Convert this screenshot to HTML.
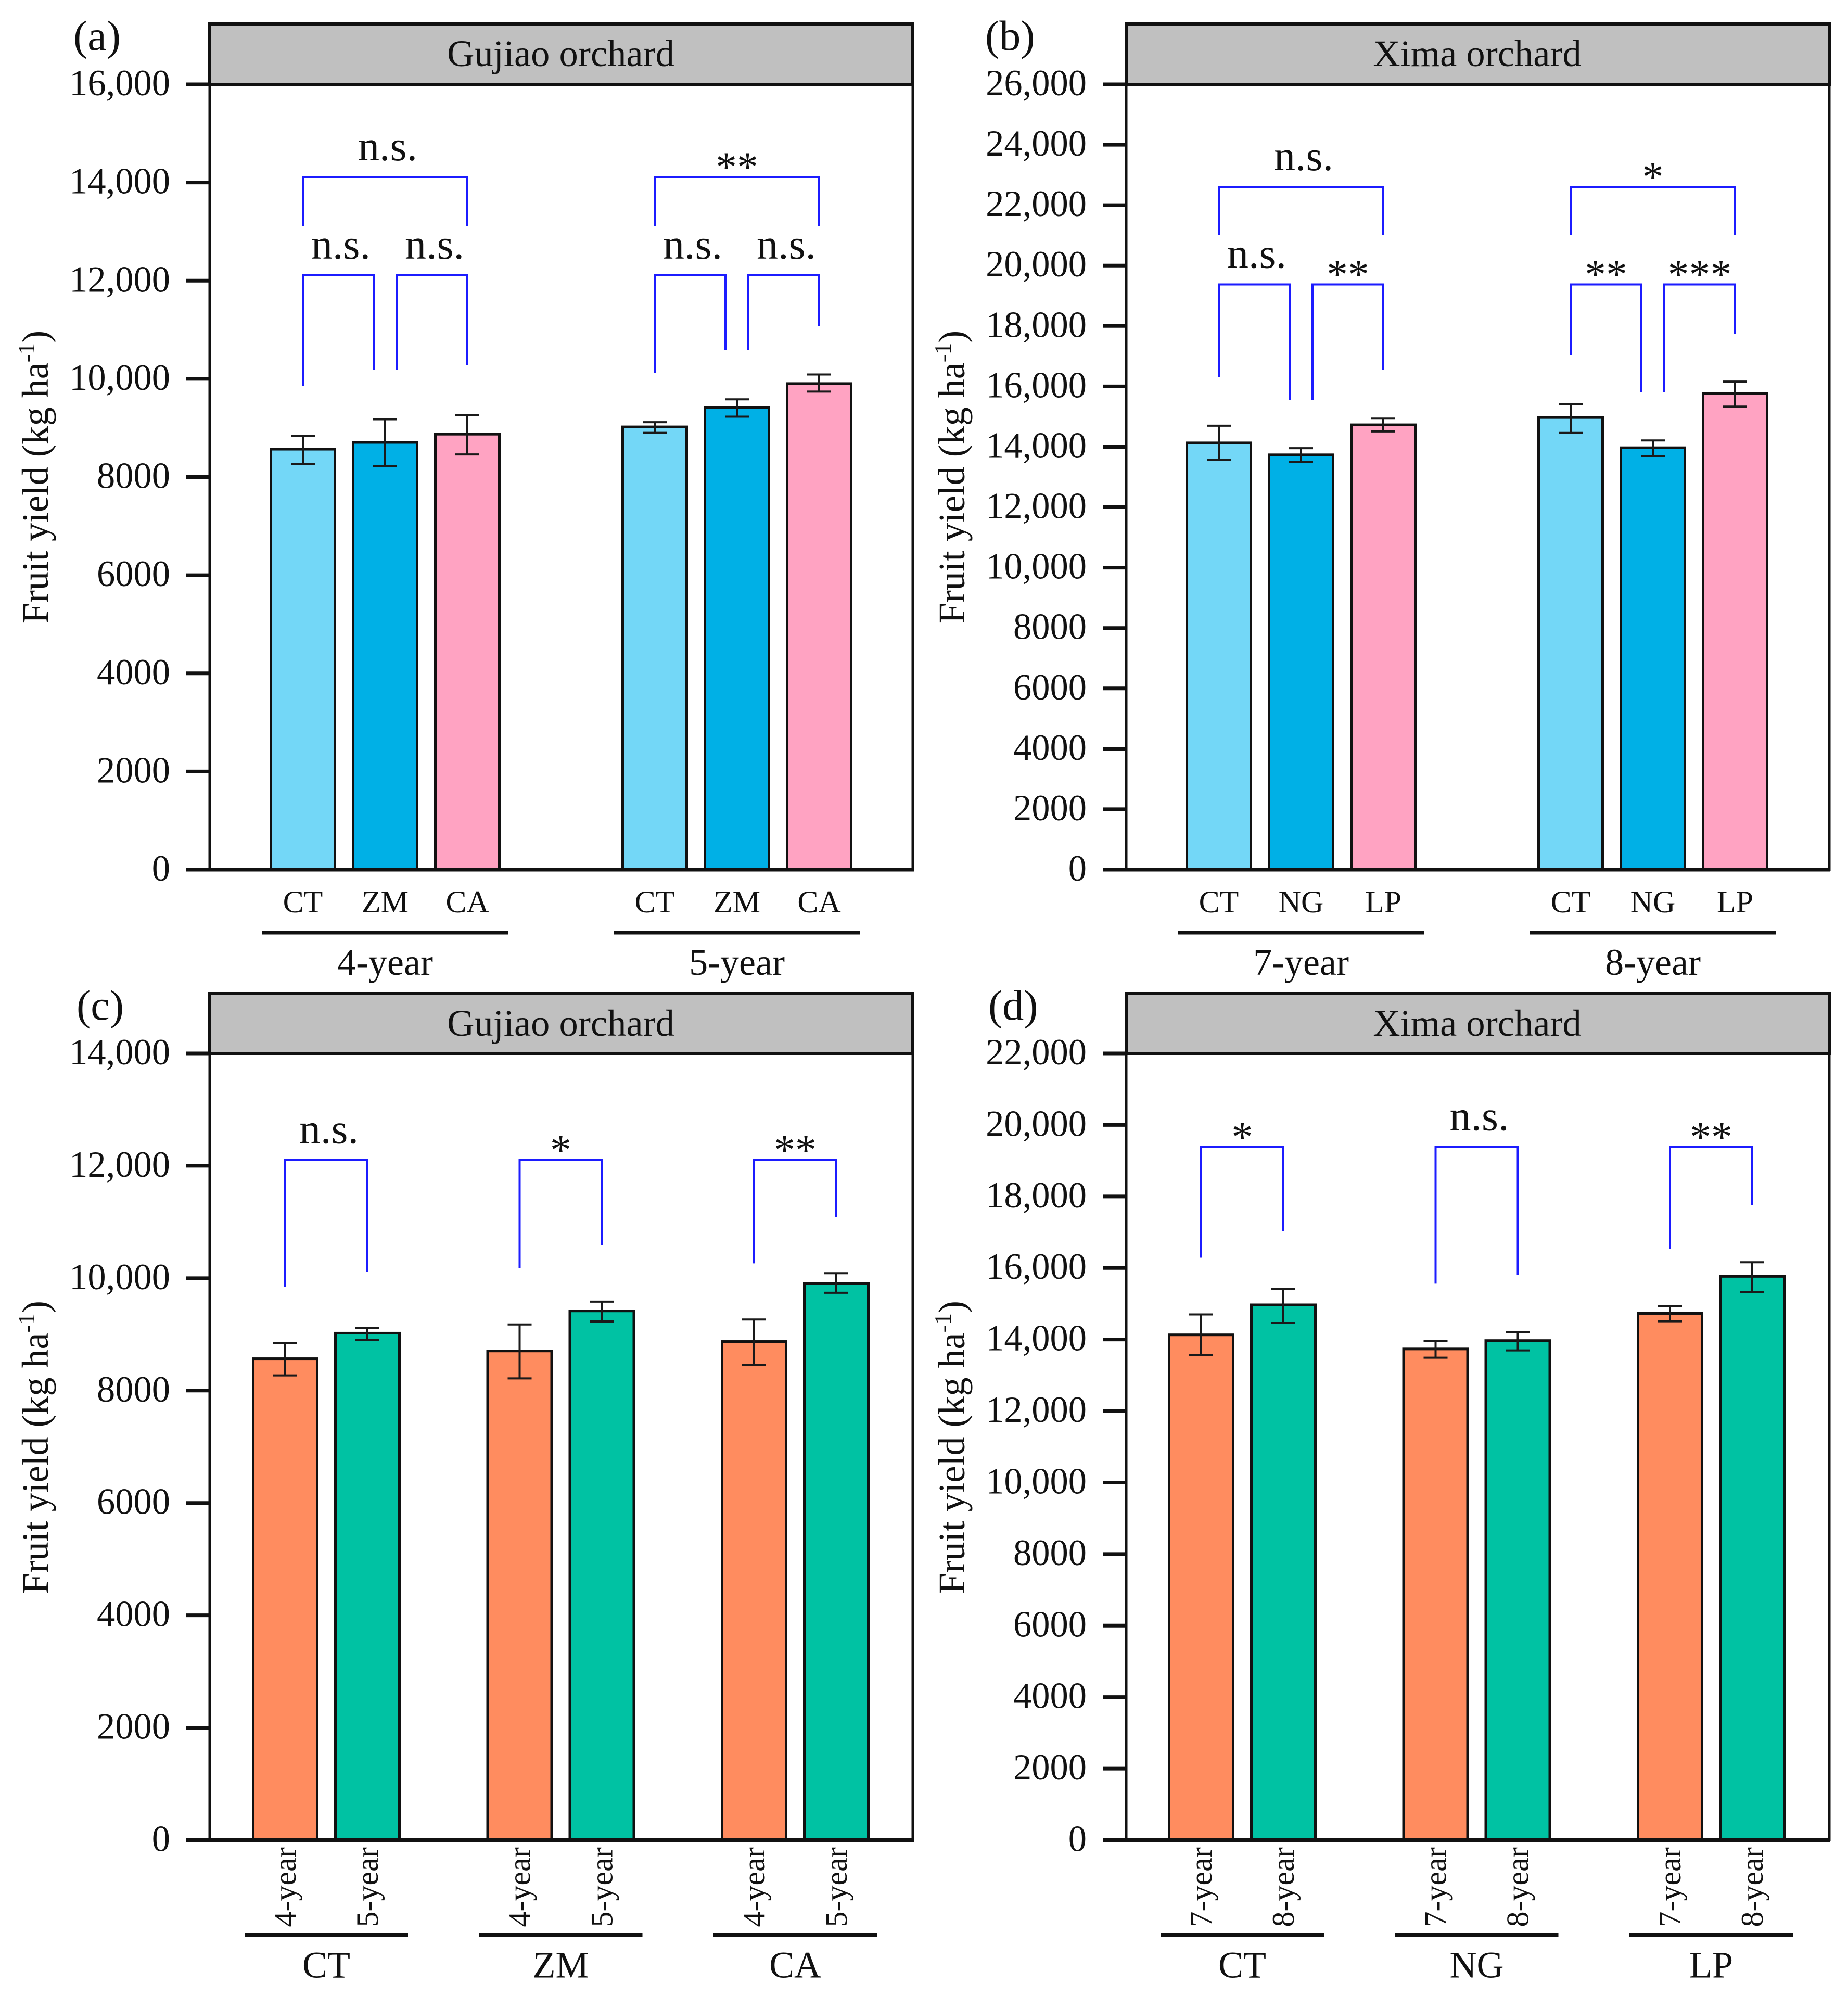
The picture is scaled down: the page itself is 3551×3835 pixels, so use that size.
<!DOCTYPE html>
<html lang="en">
<head>
<meta charset="utf-8">
<title>Fruit yield by orchard</title>
<style>
  html, body { margin: 0; padding: 0; background: #fff; }
  svg { display: block; font-family: "Liberation Serif", serif; fill: #111; }
</style>
</head>
<body>
<svg id="figure" xmlns="http://www.w3.org/2000/svg" width="3551" height="3835" viewBox="0 0 3551 3835"></svg>
<script>
// ---------- Panel (a) Gujiao orchard, by cover treatment ----------
const aTicks = [0, 2000, 4000, 6000, 8000, 10000, 12000, 14000, 16000];
const aTickLabels = ['0', '2000', '4000', '6000', '8000', '10,000', '12,000', '14,000', '16,000'];
const aGroups = ['4-year', '5-year'];
const aCategories = ['CT', 'ZM', 'CA', 'CT', 'ZM', 'CA'];
const aMeans = [8567, 8705, 8873, 9022, 9418, 9904];
const aErrUpper = [8843, 9177, 9265, 9117, 9583, 10089];
const aErrLower = [8270, 8217, 8460, 8900, 9230, 9740];
const aBracketFrom = [0, 3, 0, 1, 3, 4];
const aBracketTo = [2, 5, 1, 2, 4, 5];
const aBracketTop = [14113, 14113, 12109, 12109, 12109, 12109];
const aBracketLeftEnd = [13105, 13105, 9850, 10190, 10126, 10582];
const aBracketRightEnd = [13105, 13105, 10190, 10275, 10582, 11080];
const aBracketLabels = ['n.s.', '**', 'n.s.', 'n.s.', 'n.s.', 'n.s.'];

// ---------- Panel (b) Xima orchard, by cover treatment ----------
const bTicks = [0, 2000, 4000, 6000, 8000, 10000, 12000, 14000, 16000, 18000, 20000, 22000, 24000, 26000];
const bTickLabels = ['0', '2000', '4000', '6000', '8000', '10,000', '12,000', '14,000', '16,000', '18,000', '20,000', '22,000', '24,000', '26,000'];
const bGroups = ['7-year', '8-year'];
const bCategories = ['CT', 'NG', 'LP', 'CT', 'NG', 'LP'];
const bMeans = [14130, 13735, 14730, 14970, 13970, 15765];
const bErrUpper = [14700, 13955, 14935, 15410, 14210, 16160];
const bErrLower = [13560, 13490, 14510, 14460, 13695, 15330];
const bBracketFrom = [0, 3, 0, 1, 3, 4];
const bBracketTo = [2, 5, 1, 2, 4, 5];
const bBracketTop = [22605, 22605, 19375, 19375, 19375, 19375];
const bBracketLeftEnd = [21003, 21003, 16299, 15558, 17040, 15817];
const bBracketRightEnd = [21003, 21003, 15558, 16558, 15817, 17747];
const bBracketLabels = ['n.s.', '*', 'n.s.', '**', '**', '***'];

// ---------- Panel (c) Gujiao orchard, by age ----------
const cTicks = [0, 2000, 4000, 6000, 8000, 10000, 12000, 14000];
const cTickLabels = ['0', '2000', '4000', '6000', '8000', '10,000', '12,000', '14,000'];
const cGroups = ['CT', 'ZM', 'CA'];
const cCategories = ['4-year', '5-year', '4-year', '5-year', '4-year', '5-year'];
const cMeans = [8567, 9022, 8705, 9418, 8873, 9904];
const cErrUpper = [8843, 9117, 9177, 9583, 9265, 10089];
const cErrLower = [8270, 8900, 8217, 9230, 8460, 9740];
const cBracketFrom = [0, 2, 4];
const cBracketTo = [1, 3, 5];
const cBracketTop = [12106, 12106, 12106];
const cBracketLeftEnd = [9847, 10181, 10264];
const cBracketRightEnd = [10116, 10588, 11088];
const cBracketLabels = ['n.s.', '*', '**'];

// ---------- Panel (d) Xima orchard, by age ----------
const dTicks = [0, 2000, 4000, 6000, 8000, 10000, 12000, 14000, 16000, 18000, 20000, 22000];
const dTickLabels = ['0', '2000', '4000', '6000', '8000', '10,000', '12,000', '14,000', '16,000', '18,000', '20,000', '22,000'];
const dGroups = ['CT', 'NG', 'LP'];
const dCategories = ['7-year', '8-year', '7-year', '8-year', '7-year', '8-year'];
const dMeans = [14130, 14970, 13735, 13970, 14730, 15765];
const dErrUpper = [14700, 15410, 13955, 14210, 14935, 16160];
const dErrLower = [13560, 14460, 13490, 13695, 14510, 15330];
const dBracketFrom = [0, 2, 4];
const dBracketTo = [1, 3, 5];
const dBracketTop = [19387, 19387, 19387];
const dBracketLeftEnd = [16288, 15561, 16536];
const dBracketRightEnd = [17030, 15801, 17758];
const dBracketLabels = ['*', 'n.s.', '**'];

const SVG_NS = 'http://www.w3.org/2000/svg';
const root = document.getElementById('figure');
const treatmentColors = ['#73d7f7', '#00b0e6', '#ffa3c2'];
const ageColors = ['#ff8c5f', '#00c2a3'];
const BRACKET_BLUE = '#1c1cff';

function make(parent, tag, attrs) {
  const el = document.createElementNS(SVG_NS, tag);
  for (const k in attrs) el.setAttribute(k, attrs[k]);
  parent.appendChild(el);
  return el;
}

function drawLine(parent, x1, y1, x2, y2, color, width) {
  return make(parent, 'line', { x1: x1, y1: y1, x2: x2, y2: y2, stroke: color, 'stroke-width': width });
}

function drawText(parent, x, y, str, size, anchor) {
  const t = make(parent, 'text', { x: x, y: y, 'font-size': size, 'text-anchor': anchor || 'middle' });
  t.textContent = str;
  return t;
}

function drawPanel(p) {
  const g = make(root, 'g', {});
  
  

  // axis functions
  const yScale = v => p.y0 - (v / p.yMax) * (p.y0 - p.yTop);
  const xScale = i => {
    const group = Math.floor(i / p.perGroup);
    return p.x0 + group * p.groupStep + (i % p.perGroup) * p.barStep;
  };
  const groupCenter = k => xScale(k * p.perGroup) + (p.perGroup - 1) * p.barStep / 2;

  // panel letter
  const letter = drawText(g, p.letterX, p.top + 50, '(' + p.letter + ')', 82, 'start');
  
  

  // header strip
  const header = make(g, 'rect', { x: p.left, y: p.top, width: p.right - p.left, height: p.yTop - p.top, fill: '#c0c0c0', stroke: '#111', 'stroke-width': 6 });
  
  
  const title = drawText(g, (p.left + p.right) / 2 - 1, p.top + 81, p.title, 72.5);
  
  

  // plot frame
  const frame = make(g, 'rect', { x: p.left, y: p.yTop, width: p.right - p.left, height: p.y0 - p.yTop, fill: 'none', stroke: '#111', 'stroke-width': 5 });
  
  

  // y axis ticks and labels
  p.ticks.forEach((v, i) => {
    const y = yScale(v);
    const tick = drawLine(g, p.left - 45, y, p.left, y, '#111', 7);
    
    
    const lab = drawText(g, p.left - 76, y + 21, p.tickLabels[i], 70.5, 'end');
    
    
  });

  // y axis title
  const titleX = p.left - 311;
  const titleY = (p.y0 + p.yTop) / 2 + (p.top < 100 ? 0 : 1);
  const yTitle = make(g, 'text', { x: titleX, y: titleY, 'font-size': 72, 'text-anchor': 'middle', transform: 'rotate(-90 ' + titleX + ' ' + titleY + ')' });
  
  
  yTitle.appendChild(document.createTextNode('Fruit yield (kg ha'));
  const sup = make(yTitle, 'tspan', { dy: -26, 'font-size': 45 });
  sup.textContent = '-1';
  const close = make(yTitle, 'tspan', { dy: 26 });
  close.textContent = ')';

  // bars
  p.means.forEach((v, i) => {
    const cx = xScale(i);
    const bar = make(g, 'rect', { x: cx - 61.5, y: yScale(v), width: 123, height: p.y0 - yScale(v), fill: p.colors[i % p.perGroup], stroke: '#111', 'stroke-width': 5 });
    
    
  });

  // baseline over the bars
  const baseline = drawLine(g, p.left - 45, p.y0, p.right + 2, p.y0, '#111', 7);
  
  

  // error bars
  p.means.forEach((v, i) => {
    const cx = xScale(i);
    const eg = make(g, 'g', { stroke: '#1a1a1a', 'stroke-width': 4 });
    
    
    const hi = yScale(p.errUpper[i]);
    const lo = yScale(p.errLower[i]);
    make(eg, 'line', { x1: cx, y1: hi, x2: cx, y2: lo });
    make(eg, 'line', { x1: cx - 23, y1: hi, x2: cx + 23, y2: hi });
    make(eg, 'line', { x1: cx - 23, y1: lo, x2: cx + 23, y2: lo });
  });

  // category labels
  p.categories.forEach((c, i) => {
    const cx = xScale(i);
    let lab;
    if (p.rotated) {
      const bx = cx + 20;
      const by = p.y0 + 167;
      lab = make(g, 'text', { x: bx, y: by, 'font-size': 60, transform: 'rotate(-90 ' + bx + ' ' + by + ')' });
      lab.textContent = c;
    } else {
      lab = drawText(g, cx, p.y0 + 82, c, 60);
    }
    
    
  });

  // group rules and labels
  p.groups.forEach((name, k) => {
    const cx = groupCenter(k);
    const half = (p.barStep * (p.perGroup - 1)) / 2 + 78;
    const ry = p.rotated ? p.y0 + 182 : p.y0 + 121;
    const rule = drawLine(g, cx - half, ry, cx + half, ry, '#111', 7);
    
    
    const lab = drawText(g, cx, p.rotated ? p.y0 + 264 : p.y0 + 202, name, 72);
    
    
  });

  // significance brackets
  p.bracketFrom.forEach((from, i) => {
    const to = p.bracketTo[i];
    const adjacentInTriple = p.perGroup === 3 && to - from === 1;
    let xa = xScale(from);
    let xb = xScale(to);
    if (adjacentInTriple && from % 3 === 0) xb -= 22;
    if (adjacentInTriple && from % 3 === 1) xa += 22;
    const top = yScale(p.bracketTop[i]);
    const br = make(g, 'polyline', {
      points: xa + ',' + yScale(p.bracketLeftEnd[i]) + ' ' + xa + ',' + top + ' ' + xb + ',' + top + ' ' + xb + ',' + yScale(p.bracketRightEnd[i]),
      fill: 'none', stroke: BRACKET_BLUE, 'stroke-width': 4
    });
    
    
    const text = p.bracketLabels[i];
    const isNs = text === 'n.s.';
    const lab = drawText(g, (xa + xb) / 2 + (isNs ? 5 : 0), top + (isNs ? -32 : 8), text, 82);
    
    
  });
}

drawPanel({
  letter: 'a', title: 'Gujiao orchard', letterX: 141, left: 403, right: 1754, top: 46, yTop: 162, y0: 1671, yMax: 16000,
  x0: 582, barStep: 158, groupStep: 676, perGroup: 3, rotated: false, colors: treatmentColors,
  ticks: aTicks, tickLabels: aTickLabels, groups: aGroups, categories: aCategories,
  means: aMeans, errUpper: aErrUpper, errLower: aErrLower,
  bracketFrom: aBracketFrom, bracketTo: aBracketTo, bracketTop: aBracketTop,
  bracketLeftEnd: aBracketLeftEnd, bracketRightEnd: aBracketRightEnd, bracketLabels: aBracketLabels
});

drawPanel({
  letter: 'b', title: 'Xima orchard', letterX: 1893, left: 2164, right: 3515, top: 46, yTop: 162, y0: 1671, yMax: 26000,
  x0: 2342, barStep: 158, groupStep: 676, perGroup: 3, rotated: false, colors: treatmentColors,
  ticks: bTicks, tickLabels: bTickLabels, groups: bGroups, categories: bCategories,
  means: bMeans, errUpper: bErrUpper, errLower: bErrLower,
  bracketFrom: bBracketFrom, bracketTo: bBracketTo, bracketTop: bBracketTop,
  bracketLeftEnd: bBracketLeftEnd, bracketRightEnd: bBracketRightEnd, bracketLabels: bBracketLabels
});

drawPanel({
  letter: 'c', title: 'Gujiao orchard', letterX: 147, left: 403, right: 1754, top: 1909, yTop: 2024, y0: 3535.5, yMax: 14000,
  x0: 548, barStep: 158, groupStep: 450.5, perGroup: 2, rotated: true, colors: ageColors,
  ticks: cTicks, tickLabels: cTickLabels, groups: cGroups, categories: cCategories,
  means: cMeans, errUpper: cErrUpper, errLower: cErrLower,
  bracketFrom: cBracketFrom, bracketTo: cBracketTo, bracketTop: cBracketTop,
  bracketLeftEnd: cBracketLeftEnd, bracketRightEnd: cBracketRightEnd, bracketLabels: cBracketLabels
});

drawPanel({
  letter: 'd', title: 'Xima orchard', letterX: 1899, left: 2164, right: 3515, top: 1909, yTop: 2024, y0: 3535.5, yMax: 22000,
  x0: 2308, barStep: 158, groupStep: 450.5, perGroup: 2, rotated: true, colors: ageColors,
  ticks: dTicks, tickLabels: dTickLabels, groups: dGroups, categories: dCategories,
  means: dMeans, errUpper: dErrUpper, errLower: dErrLower,
  bracketFrom: dBracketFrom, bracketTo: dBracketTo, bracketTop: dBracketTop,
  bracketLeftEnd: dBracketLeftEnd, bracketRightEnd: dBracketRightEnd, bracketLabels: dBracketLabels
});
</script>
</body>
</html>
